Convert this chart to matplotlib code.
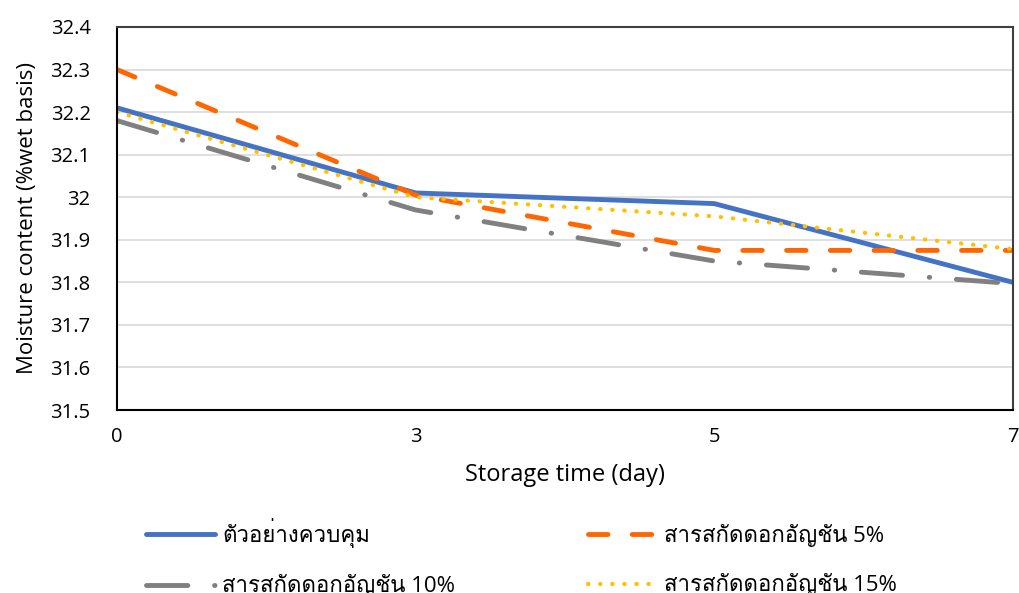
import matplotlib
matplotlib.use("Agg")
import matplotlib.pyplot as plt
from matplotlib import font_manager
from fontTools.ttLib import TTFont

days = ["0", "3", "5", "7"]
control = [32.21, 32.01, 31.985, 31.80]
ext_5 = [32.30, 32.005, 31.875, 31.875]
ext_10 = [32.18, 31.97, 31.85, 31.797]
ext_15 = [32.20, 32.00, 31.955, 31.878]
labels = ["ตัวอย่างควบคุม", "สารสกัดดอกอัญชัน 5%",
          "สารสกัดดอกอัญชัน 10%", "สารสกัดดอกอัญชัน 15%"]
yticks = [31.5, 31.6, 31.7, 31.8, 31.9, 32.0, 32.1, 32.2, 32.3, 32.4]
ytick_labels = ["31.5", "31.6", "31.7", "31.8", "31.9", "32", "32.1", "32.2", "32.3", "32.4"]


def thai_font():
    # first installed font that actually has Thai glyphs
    for path in sorted(font_manager.findSystemFonts()):
        try:
            f = TTFont(path, fontNumber=0, lazy=True)
            if 0x0E01 in f.getBestCmap():
                return font_manager.FontProperties(fname=path).get_name()
        except Exception:
            continue
    return None


thai = thai_font()
families = ["Open Sans", "DejaVu Sans"]
if thai:
    families.append(thai)
plt.rcParams["font.family"] = families

fig = plt.figure(figsize=(10.19, 5.93), dpi=100)
ax = fig.add_axes([0.1148, 0.3086, 0.8792, 0.6459])

x = range(len(days))
l0, = ax.plot(x, control, color="#4472C4", lw=3.5, solid_capstyle="round")
l1, = ax.plot(x, ext_5, color="#FF6600", lw=3.5, dashes=(4, 5), dash_capstyle="round")
l2, = ax.plot(x, ext_10, color="#808080", lw=3.5, dashes=(8.5, 5.5, 0.1, 5.5),
              dash_capstyle="round")
l3, = ax.plot(x, ext_15, color="#FFC000", lw=3.0, dashes=(0.1, 2.8), dash_capstyle="round")

ax.set_xlim(0, len(days) - 1)
ax.set_ylim(31.5, 32.4)
ax.set_xticks(list(x))
ax.set_xticklabels(days)
ax.set_yticks(yticks)
ax.set_yticklabels(ytick_labels)
ax.tick_params(length=0, labelsize=14.5, colors="black")
ax.tick_params(axis="x", pad=12)
ax.tick_params(axis="y", pad=19)
ax.grid(axis="y", color="#D9D9D9", lw=1.2)
ax.set_axisbelow(True)
for side in ["left", "bottom"]:
    ax.spines[side].set_color("black")
    ax.spines[side].set_linewidth(1.5)
for side in ["top", "right"]:
    ax.spines[side].set_color("#404040")
    ax.spines[side].set_linewidth(1.5)

ax.set_xlabel("Storage time (day)", fontsize=17, labelpad=12)
ax.set_ylabel("Moisture content (%wet basis)", fontsize=16, labelpad=9)

# legend fills row by row: control | 5% over 10% | 15%
fig.legend([l0, l2, l1, l3], [labels[0], labels[2], labels[1], labels[3]],
           loc="upper left", bbox_to_anchor=(0.135, 0.142), ncol=2, frameon=False,
           fontsize=16, handlelength=3.1, handletextpad=0.3, columnspacing=6.0,
           labelspacing=1.2, borderaxespad=0)

fig.savefig("out.png", dpi=100)
